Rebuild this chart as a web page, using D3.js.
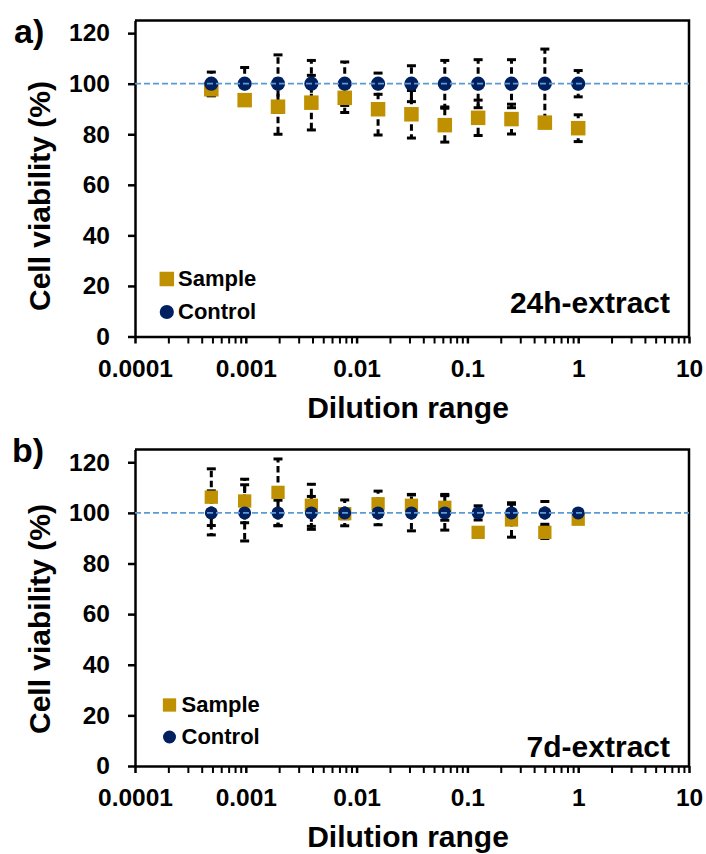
<!DOCTYPE html>
<html><head><meta charset="utf-8">
<script src="https://cdn.jsdelivr.net/npm/d3@7"></script>
<style>
body{margin:0;background:#fff;}
svg text{font-family:"Liberation Sans",Arial,sans-serif;font-weight:bold;fill:#000;}
</style></head><body>
<svg id="chart" width="706" height="854"></svg>
<script>
// ---------- data ----------
const dilution = [0.00048828125, 0.0009765625, 0.001953125, 0.00390625, 0.0078125, 0.015625, 0.03125, 0.0625, 0.125, 0.25, 0.5, 1];

const sample24 = [97.8, 93.5, 90.9, 92.5, 94.4, 89.9, 87.9, 83.6, 86.5, 86.0, 84.6, 82.4];
const sample24Err = [2.6, 1.5, 10.9, 10.8, 5.8, 10.2, 9.4, 6.7, 7.0, 5.9, 1.5, 5.3];
const control24 = [100, 100, 100, 100, 100, 100, 100, 100, 100, 100, 100, 100];
const control24Err = [4.6, 6.4, 11.4, 9.2, 8.6, 4.2, 7.1, 9.2, 9.5, 9.5, 13.7, 5.2];

const sample7d = [106.2, 104.7, 108.1, 103.0, 99.7, 103.6, 103.0, 102.2, 92.3, 97.2, 92.3, 97.5];
const sample7dErr = [11.2, 8.6, 13.2, 8.3, 2.0, 5.0, 4.3, 5.1, 1.5, 6.8, 2.4, 1.0];
const control7d = [100, 100, 100, 100, 100, 100, 100, 100, 100, 100, 100, 100];
const control7dErr = [8.7, 11.1, 5.0, 6.5, 5.1, 4.7, 7.1, 6.8, 2.8, 3.4, 4.5, 1.0];

const xTickValues = [0.0001, 0.001, 0.01, 0.1, 1, 10];
const xTickLabels = ["0.0001", "0.001", "0.01", "0.1", "1", "10"];
const yTickValues = [0, 20, 40, 60, 80, 100, 120];
const referenceLevel = 100;
const seriesNames = ["Sample", "Control"];
const panelLabels = ["a)", "b)"];
const extractLabels = ["24h-extract", "7d-extract"];
const xTitle = "Dilution range";
const yTitle = "Cell viability (%)";

// ---------- drawing ----------
const svg = d3.select("#chart");
const SAMPLE_COLOR = "#BF9000";
const CONTROL_COLOR = "#002060";
const REF_COLOR = "#5B9BD5";

const panels = [
  { yBottom: 336.5, yTop: 20.5, sample: sample24, sampleErr: sample24Err, control: control24, controlErr: control24Err,
    label: panelLabels[0], labelY: 43, labelX: 14, extract: extractLabels[0], extractY: 313,
    legX: 166.8, legSqY: 279, legCiY: 312, legTextX: 178, legText1Y: 286, legText2Y: 319,
    xLabelY: 23, xTitleY: 417.5, yTitleC: 196, sq: 14.5, r: 7.1 },
  { yBottom: 766, yTop: 449.6, sample: sample7d, sampleErr: sample7dErr, control: control7d, controlErr: control7dErr,
    label: panelLabels[1], labelY: 462, labelX: 12, extract: extractLabels[1], extractY: 756.5,
    legX: 169.5, legSqY: 705, legCiY: 737, legTextX: 181.5, legText1Y: 712, legText2Y: 744,
    xLabelY: 23, xTitleY: 847.3, yTitleC: 619, sq: 13.3, r: 6.5 }
];

const x = d3.scaleLog().domain([0.0001, 10]).range([135, 689]);

panels.forEach(p => {
  const y = d3.scaleLinear().domain([0, 125]).range([p.yBottom, p.yTop]);
  const g = svg.append("g");

  // frame (top & right)
  g.append("path")
    .attr("d", `M${x(0.0001)},${y(125)}H${x(10)}V${y(0)}`)
    .attr("fill", "none").attr("stroke", "#000").attr("stroke-width", 2.5);

  // minor x ticks
  const minor = [];
  for (let e = -4; e < 1; e++) for (let k = 2; k < 10; k++) minor.push(+(k * Math.pow(10, e)).toPrecision(6));
  const mg = g.append("g").attr("transform", `translate(0,${y(0)})`)
    .call(d3.axisBottom(x).tickValues(minor).tickSize(7).tickFormat(""));
  mg.select(".domain").remove();
  mg.selectAll(".tick line").attr("stroke", "#000").attr("stroke-width", 2);

  // major x axis
  const xa = g.append("g").attr("transform", `translate(0,${y(0)})`)
    .call(d3.axisBottom(x).tickValues(xTickValues).tickSize(7).tickSizeOuter(0)
      .tickFormat((d, i) => xTickLabels[i]));
  xa.select(".domain").attr("stroke", "#000").attr("stroke-width", 2.5);
  xa.selectAll(".tick line").attr("stroke", "#000").attr("stroke-width", 2.5);
  xa.selectAll("text").attr("y", p.xLabelY).attr("dy", "0.71em")
    .style("font-size", "24.5px").attr("fill", "#000");

  // y axis
  const ya = g.append("g").attr("transform", `translate(${x(0.0001)},0)`)
    .call(d3.axisLeft(y).tickValues(yTickValues).tickSize(7).tickPadding(18).tickSizeOuter(0));
  ya.select(".domain").attr("stroke", "#000").attr("stroke-width", 2.5);
  ya.selectAll(".tick line").attr("stroke", "#000").attr("stroke-width", 2.5);
  ya.selectAll("text").style("font-size", "24.5px").attr("fill", "#000");

  // error bars
  const drawErr = (vals, errs) => {
    const eg = g.append("g");
    dilution.forEach((d, i) => {
      const cx = x(d), v = vals[i], e = errs[i];
      [v + e, v - e].forEach(end => {
        eg.append("line").attr("x1", cx).attr("x2", cx).attr("y1", y(v)).attr("y2", y(end))
          .attr("stroke", "#000").attr("stroke-width", 3).attr("stroke-dasharray", "6.5,3.5");
        eg.append("line").attr("x1", cx - 4.5).attr("x2", cx + 4.5).attr("y1", y(end)).attr("y2", y(end))
          .attr("stroke", "#000").attr("stroke-width", 3);
      });
    });
  };
  drawErr(p.sample, p.sampleErr);
  drawErr(p.control, p.controlErr);

  // sample squares
  g.append("g").selectAll("rect").data(dilution).join("rect")
    .attr("x", d => x(d) - p.sq / 2)
    .attr("y", (d, i) => y(p.sample[i]) - p.sq / 2)
    .attr("width", p.sq).attr("height", p.sq).attr("fill", SAMPLE_COLOR);

  // control circles
  g.append("g").selectAll("circle").data(dilution).join("circle")
    .attr("cx", d => x(d)).attr("cy", (d, i) => y(p.control[i])).attr("r", p.r)
    .attr("fill", CONTROL_COLOR);

  // reference dashed line
  g.append("line").attr("x1", x(0.0001)).attr("x2", x(10))
    .attr("y1", y(referenceLevel)).attr("y2", y(referenceLevel))
    .attr("stroke", REF_COLOR).attr("stroke-width", 1.8).attr("stroke-dasharray", "6,3");

  // legend
  g.append("rect").attr("x", p.legX - p.sq / 2).attr("y", p.legSqY - p.sq / 2)
    .attr("width", p.sq).attr("height", p.sq).attr("fill", SAMPLE_COLOR);
  g.append("circle").attr("cx", p.legX).attr("cy", p.legCiY).attr("r", p.r).attr("fill", CONTROL_COLOR);
  g.append("text").attr("x", p.legTextX).attr("y", p.legText1Y).style("font-size", "22px").text(seriesNames[0]);
  g.append("text").attr("x", p.legTextX).attr("y", p.legText2Y).style("font-size", "22px").text(seriesNames[1]);

  // extract label
  g.append("text").attr("x", 670).attr("y", p.extractY).attr("text-anchor", "end")
    .style("font-size", "30px").text(p.extract);

  // panel label
  g.append("text").attr("x", p.labelX).attr("y", p.labelY).style("font-size", "34px").text(p.label);

  // axis titles
  g.append("text").attr("x", 408).attr("y", p.xTitleY).attr("text-anchor", "middle")
    .style("font-size", "30px").text(xTitle);
  g.append("text").attr("transform", `translate(50,${p.yTitleC}) rotate(-90)`)
    .attr("text-anchor", "middle").style("font-size", "30px").text(yTitle);
});
</script>
</body></html>
